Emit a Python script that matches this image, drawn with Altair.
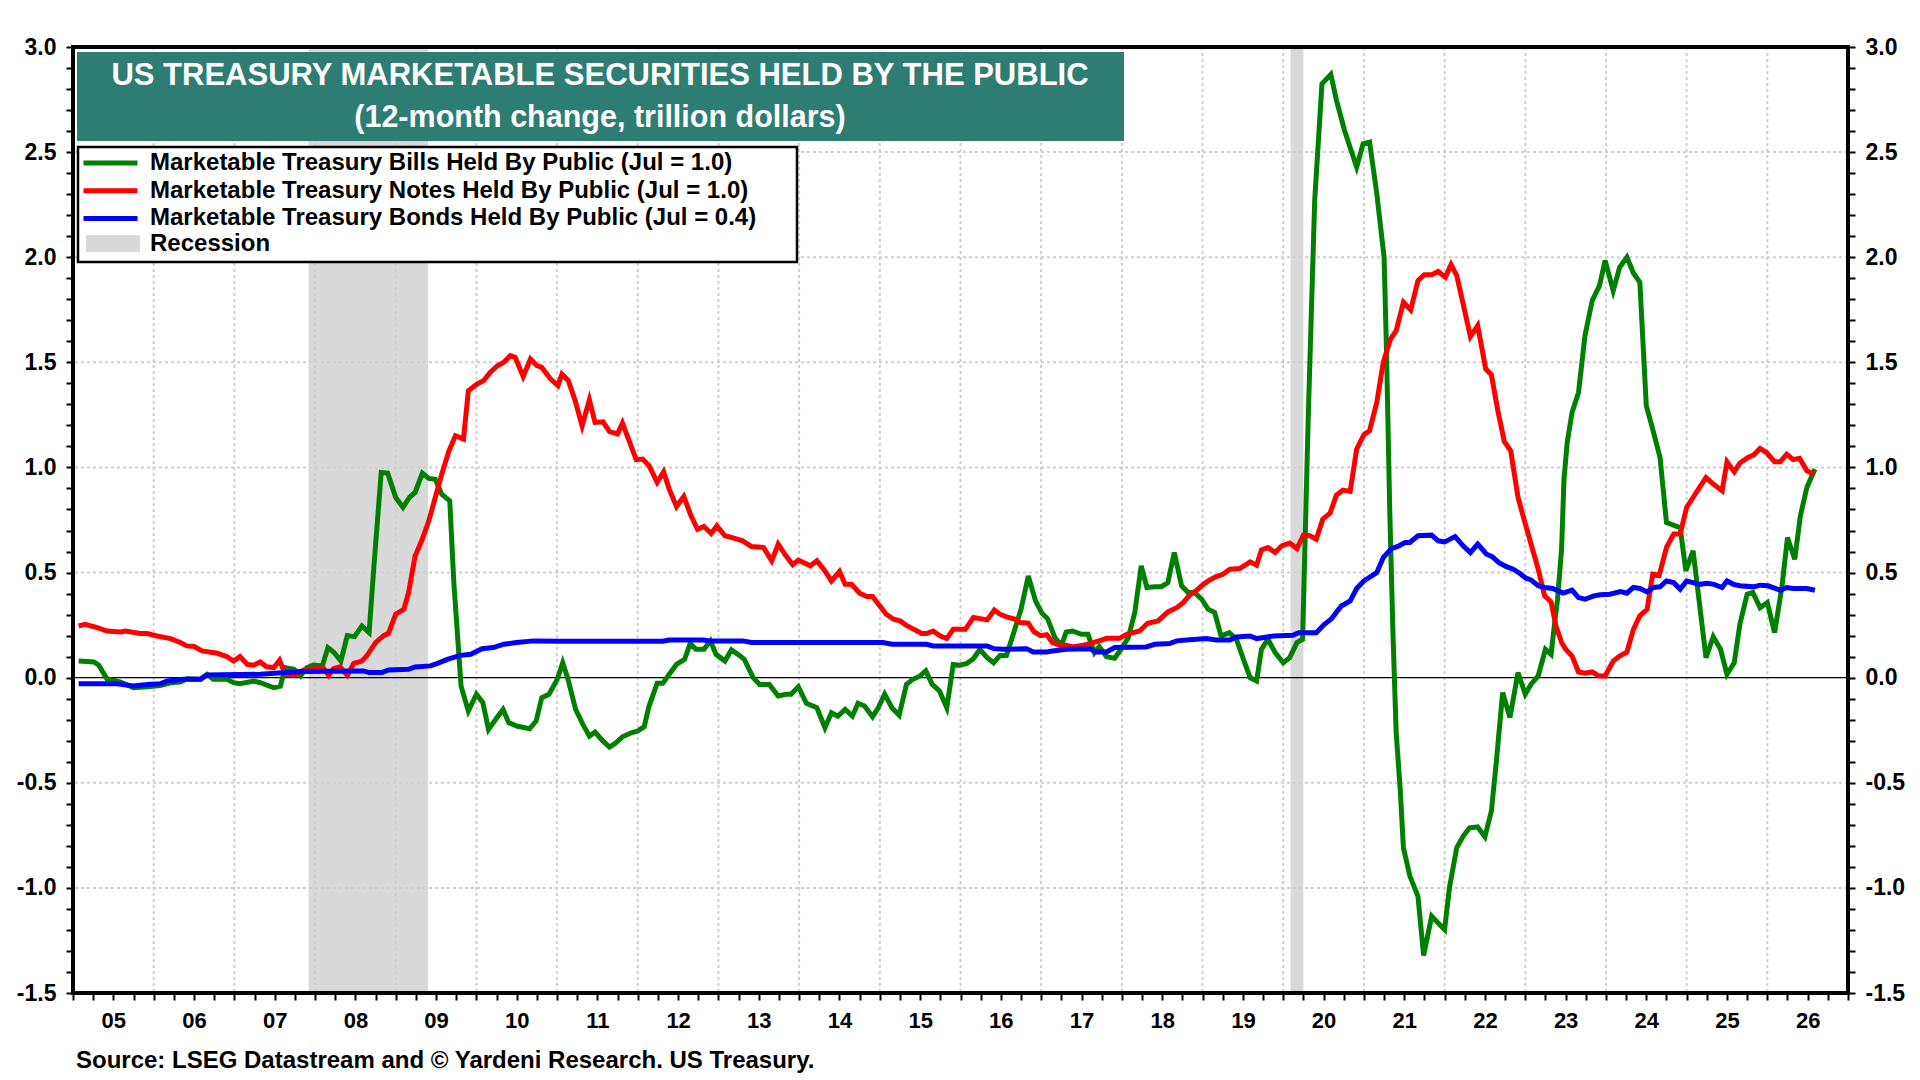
import altair as alt
import pandas as pd

# ---------------- data ----------------
series_names = [
    "Marketable Treasury Bills Held By Public (Jul = 1.0)",
    "Marketable Treasury Notes Held By Public (Jul = 1.0)",
    "Marketable Treasury Bonds Held By Public (Jul = 0.4)",
]
series_colors = ["#008000", "#FF0000", "#0000FF"]

bills_year = [2005.07, 2005.26, 2005.32, 2005.42, 2005.59, 2005.75, 2005.92, 2006.08, 2006.21, 2006.33,
              2006.41, 2006.58, 2006.66, 2006.74, 2006.91, 2006.99, 2007.07, 2007.24, 2007.32, 2007.49,
              2007.57, 2007.63, 2007.74, 2007.82, 2007.90, 2007.98, 2008.09, 2008.16, 2008.23, 2008.32,
              2008.40, 2008.49, 2008.58, 2008.67, 2008.73, 2008.82, 2008.90, 2009.00, 2009.09, 2009.17,
              2009.24, 2009.33, 2009.41, 2009.49, 2009.57, 2009.67, 2009.72, 2009.81, 2009.90, 2010.00,
              2010.08, 2010.15, 2010.24, 2010.33, 2010.40, 2010.50, 2010.66, 2010.74, 2010.81, 2010.90,
              2011.00, 2011.07, 2011.13, 2011.23, 2011.32, 2011.40, 2011.47, 2011.57, 2011.65, 2011.73,
              2011.81, 2011.92, 2012.00, 2012.08, 2012.14, 2012.24, 2012.31, 2012.39, 2012.48, 2012.58,
              2012.65, 2012.72, 2012.82, 2012.90, 2012.97, 2013.08, 2013.16, 2013.24, 2013.32, 2013.43,
              2013.51, 2013.63, 2013.74, 2013.84, 2013.90, 2013.99, 2014.09, 2014.22, 2014.32, 2014.40,
              2014.48, 2014.57, 2014.66, 2014.73, 2014.81, 2014.91, 2014.98, 2015.06, 2015.15, 2015.24,
              2015.33, 2015.41, 2015.50, 2015.57, 2015.65, 2015.74, 2015.83, 2015.91, 2015.99, 2016.08,
              2016.16, 2016.24, 2016.33, 2016.41, 2016.49, 2016.57, 2016.66, 2016.75, 2016.84, 2016.93,
              2017.01, 2017.08, 2017.17, 2017.25, 2017.31, 2017.39, 2017.50, 2017.58, 2017.66, 2017.72,
              2017.81, 2017.91, 2017.99, 2018.08, 2018.16, 2018.24, 2018.31, 2018.41, 2018.49, 2018.57,
              2018.65, 2018.74, 2018.82, 2018.90, 2018.99, 2019.07, 2019.15, 2019.23, 2019.33, 2019.42,
              2019.51, 2019.59, 2019.67, 2019.73, 2019.81, 2019.90, 2020.00, 2020.08, 2020.17, 2020.24,
              2020.31, 2020.39, 2020.48, 2020.59, 2020.66, 2020.76, 2020.91, 2020.99, 2021.07, 2021.16,
              2021.25, 2021.28, 2021.32, 2021.36, 2021.40, 2021.45, 2021.49, 2021.57, 2021.67, 2021.74,
              2021.84, 2021.92, 2022.00, 2022.06, 2022.15, 2022.23, 2022.31, 2022.41, 2022.50, 2022.58,
              2022.64, 2022.72, 2022.81, 2022.91, 2023.00, 2023.07, 2023.16, 2023.25, 2023.32, 2023.36,
              2023.40, 2023.45, 2023.48, 2023.52, 2023.58, 2023.66, 2023.74, 2023.83, 2023.92, 2023.99,
              2024.09, 2024.17, 2024.26, 2024.34, 2024.42, 2024.50, 2024.59, 2024.67, 2024.75, 2024.86,
              2024.92, 2024.99, 2025.08, 2025.15, 2025.24, 2025.33, 2025.42, 2025.50, 2025.59, 2025.66,
              2025.75, 2025.82, 2025.91, 2026.00, 2026.09, 2026.18, 2026.25, 2026.34, 2026.41, 2026.49,
              2026.59]
bills_val = [0.079, 0.075, 0.059, -0.005, -0.021, -0.048, -0.043, -0.037, -0.024, -0.021,
             -0.005, -0.008, 0.016, -0.008, -0.008, -0.024, -0.029, -0.016, -0.024, -0.048,
             -0.040, 0.048, 0.040, 0.008, 0.048, 0.060, 0.056, 0.143, 0.122, 0.079,
             0.200, 0.195, 0.246, 0.214, 0.532, 0.976, 0.973, 0.857, 0.810, 0.857,
             0.881, 0.973, 0.948, 0.944, 0.873, 0.841, 0.452, -0.040, -0.159, -0.079,
             -0.119, -0.246, -0.198, -0.151, -0.214, -0.230, -0.243, -0.206, -0.095, -0.079,
             -0.010, 0.071, 0.000, -0.151, -0.222, -0.278, -0.259, -0.302, -0.330, -0.310,
             -0.281, -0.262, -0.254, -0.233, -0.135, -0.027, -0.027, 0.016, 0.063, 0.087,
             0.163, 0.135, 0.135, 0.175, 0.111, 0.079, 0.132, 0.111, 0.087, 0.000,
             -0.032, -0.032, -0.087, -0.079, -0.079, -0.043, -0.122, -0.143, -0.238, -0.167,
             -0.183, -0.151, -0.183, -0.122, -0.135, -0.186, -0.143, -0.079, -0.143, -0.179,
             -0.032, -0.008, 0.008, 0.032, -0.032, -0.063, -0.143, 0.063, 0.059, 0.068,
             0.090, 0.135, 0.095, 0.071, 0.106, 0.106, 0.214, 0.325, 0.484, 0.365,
             0.306, 0.280, 0.190, 0.154, 0.217, 0.222, 0.206, 0.206, 0.119, 0.148,
             0.100, 0.092, 0.135, 0.190, 0.310, 0.532, 0.429, 0.433, 0.433, 0.452,
             0.595, 0.437, 0.405, 0.405, 0.373, 0.325, 0.310, 0.198, 0.214, 0.183,
             0.084, 0.000, -0.016, 0.135, 0.183, 0.119, 0.071, 0.095, 0.167, 0.183,
             1.238, 2.270, 2.825, 2.870, 2.746, 2.603, 2.429, 2.540, 2.548, 2.302,
             2.000, 1.556, 0.800, 0.214, -0.262, -0.532, -0.810, -0.944, -1.040, -1.322,
             -1.135, -1.167, -1.198, -1.000, -0.810, -0.754, -0.714, -0.710, -0.757, -0.635,
             -0.405, -0.071, -0.190, 0.024, -0.079, -0.032, 0.008, 0.135, 0.111, 0.246,
             0.373, 0.611, 0.944, 1.119, 1.262, 1.357, 1.627, 1.794, 1.865, 1.984,
             1.841, 1.952, 2.000, 1.925, 1.881, 1.294, 1.167, 1.048, 0.738, 0.722,
             0.714, 0.508, 0.603, 0.381, 0.095, 0.195, 0.135, 0.016, 0.071, 0.254,
             0.397, 0.405, 0.333, 0.357, 0.214, 0.429, 0.667, 0.563, 0.770, 0.905,
             0.992]

notes_year = [2005.07, 2005.15, 2005.30, 2005.42, 2005.59, 2005.65, 2005.83, 2005.92, 2006.04, 2006.21,
              2006.33, 2006.41, 2006.50, 2006.60, 2006.79, 2006.91, 2006.99, 2007.07, 2007.16, 2007.24,
              2007.32, 2007.40, 2007.49, 2007.56, 2007.63, 2007.74, 2007.86, 2007.98, 2008.11, 2008.17,
              2008.23, 2008.31, 2008.40, 2008.48, 2008.58, 2008.64, 2008.75, 2008.85, 2008.91, 2009.00,
              2009.10, 2009.16, 2009.24, 2009.33, 2009.41, 2009.49, 2009.57, 2009.66, 2009.74, 2009.84,
              2009.90, 2010.01, 2010.09, 2010.17, 2010.26, 2010.34, 2010.42, 2010.48, 2010.58, 2010.67,
              2010.75, 2010.81, 2010.92, 2011.01, 2011.06, 2011.14, 2011.23, 2011.31, 2011.40, 2011.47,
              2011.57, 2011.65, 2011.75, 2011.81, 2011.90, 2011.98, 2012.06, 2012.14, 2012.24, 2012.32,
              2012.39, 2012.48, 2012.57, 2012.66, 2012.74, 2012.82, 2012.91, 2012.98, 2013.08, 2013.18,
              2013.30, 2013.41, 2013.56, 2013.66, 2013.74, 2013.83, 2013.92, 2013.99, 2014.14, 2014.22,
              2014.32, 2014.40, 2014.50, 2014.57, 2014.65, 2014.75, 2014.84, 2014.91, 2015.00, 2015.08,
              2015.17, 2015.25, 2015.33, 2015.42, 2015.52, 2015.58, 2015.66, 2015.75, 2015.83, 2015.91,
              2016.06, 2016.16, 2016.33, 2016.42, 2016.49, 2016.57, 2016.68, 2016.74, 2016.84, 2016.91,
              2016.99, 2017.07, 2017.14, 2017.23, 2017.31, 2017.39, 2017.52, 2017.64, 2017.72, 2017.81,
              2017.97, 2018.06, 2018.14, 2018.22, 2018.32, 2018.45, 2018.57, 2018.68, 2018.76, 2018.84,
              2018.92, 2019.01, 2019.09, 2019.17, 2019.25, 2019.34, 2019.46, 2019.59, 2019.67, 2019.73,
              2019.81, 2019.90, 2019.98, 2020.08, 2020.17, 2020.25, 2020.33, 2020.41, 2020.49, 2020.58,
              2020.66, 2020.74, 2020.83, 2020.91, 2021.00, 2021.07, 2021.16, 2021.24, 2021.33, 2021.40,
              2021.49, 2021.58, 2021.67, 2021.75, 2021.84, 2021.92, 2022.01, 2022.08, 2022.15, 2022.23,
              2022.32, 2022.41, 2022.51, 2022.58, 2022.66, 2022.74, 2022.82, 2022.91, 2022.99, 2023.09,
              2023.16, 2023.24, 2023.32, 2023.38, 2023.45, 2023.50, 2023.58, 2023.66, 2023.74, 2023.83,
              2023.91, 2023.99, 2024.09, 2024.17, 2024.26, 2024.34, 2024.42, 2024.51, 2024.58, 2024.66,
              2024.75, 2024.84, 2024.92, 2025.00, 2025.08, 2025.16, 2025.24, 2025.33, 2025.44, 2025.50,
              2025.59, 2025.66, 2025.76, 2025.83, 2025.91, 2025.99, 2026.09, 2026.16, 2026.24, 2026.32,
              2026.40, 2026.49, 2026.58]
notes_val = [0.246, 0.254, 0.238, 0.222, 0.217, 0.222, 0.210, 0.210, 0.198, 0.186,
             0.167, 0.151, 0.148, 0.127, 0.116, 0.100, 0.079, 0.100, 0.063, 0.059,
             0.075, 0.052, 0.048, 0.083, 0.016, 0.011, 0.037, 0.043, 0.043, 0.011,
             0.043, 0.052, 0.011, 0.068, 0.079, 0.103, 0.167, 0.200, 0.211, 0.302,
             0.325, 0.405, 0.579, 0.659, 0.746, 0.857, 0.968, 1.079, 1.151, 1.135,
             1.365, 1.397, 1.413, 1.452, 1.484, 1.500, 1.532, 1.524, 1.433, 1.516,
             1.484, 1.476, 1.420, 1.389, 1.444, 1.413, 1.310, 1.198, 1.322, 1.214,
             1.217, 1.170, 1.159, 1.211, 1.119, 1.037, 1.040, 1.008, 0.929, 0.979,
             0.897, 0.814, 0.862, 0.770, 0.706, 0.719, 0.686, 0.722, 0.675, 0.665,
             0.651, 0.624, 0.619, 0.556, 0.635, 0.583, 0.537, 0.559, 0.532, 0.556,
             0.508, 0.460, 0.505, 0.444, 0.444, 0.402, 0.386, 0.386, 0.341, 0.302,
             0.278, 0.270, 0.249, 0.230, 0.210, 0.210, 0.222, 0.198, 0.186, 0.230,
             0.230, 0.286, 0.275, 0.322, 0.302, 0.289, 0.278, 0.262, 0.259, 0.219,
             0.200, 0.204, 0.167, 0.154, 0.154, 0.146, 0.154, 0.167, 0.175, 0.187,
             0.187, 0.206, 0.214, 0.222, 0.259, 0.270, 0.313, 0.333, 0.357, 0.392,
             0.413, 0.444, 0.465, 0.481, 0.492, 0.516, 0.519, 0.551, 0.535, 0.608,
             0.619, 0.595, 0.627, 0.640, 0.614, 0.678, 0.675, 0.659, 0.754, 0.782,
             0.869, 0.892, 0.886, 1.087, 1.156, 1.175, 1.310, 1.500, 1.611, 1.651,
             1.786, 1.749, 1.889, 1.917, 1.917, 1.932, 1.905, 1.965, 1.913, 1.778,
             1.622, 1.675, 1.468, 1.441, 1.270, 1.124, 1.079, 0.857, 0.746, 0.611,
             0.516, 0.389, 0.360, 0.246, 0.167, 0.135, 0.103, 0.027, 0.021, 0.027,
             0.008, 0.008, 0.079, 0.103, 0.122, 0.230, 0.294, 0.325, 0.492, 0.487,
             0.619, 0.683, 0.683, 0.810, 0.857, 0.905, 0.952, 0.921, 0.889, 1.027,
             0.979, 1.021, 1.048, 1.059, 1.090, 1.071, 1.027, 1.027, 1.063, 1.037,
             1.043, 0.984, 0.968]

bonds_year = [2005.07, 2005.55, 2005.75, 2005.92, 2006.08, 2006.17, 2006.37, 2006.58, 2006.66, 2007.32,
              2007.82, 2008.60, 2008.67, 2008.83, 2008.91, 2009.16, 2009.24, 2009.43, 2009.51, 2009.64,
              2009.80, 2009.93, 2010.07, 2010.21, 2010.34, 2010.50, 2010.71, 2011.03, 2012.31, 2012.39,
              2012.81, 2012.89, 2013.30, 2013.41, 2015.04, 2015.15, 2015.58, 2015.66, 2016.33, 2016.41,
              2016.53, 2016.82, 2016.90, 2017.07, 2017.14, 2017.31, 2017.60, 2017.68, 2017.81, 2017.91,
              2018.30, 2018.41, 2018.59, 2018.68, 2018.80, 2019.05, 2019.17, 2019.34, 2019.42, 2019.59,
              2019.67, 2019.88, 2020.12, 2020.19, 2020.41, 2020.50, 2020.60, 2020.72, 2020.83, 2020.91,
              2021.00, 2021.16, 2021.24, 2021.34, 2021.42, 2021.51, 2021.57, 2021.67, 2021.84, 2021.92,
              2022.00, 2022.13, 2022.23, 2022.32, 2022.41, 2022.52, 2022.59, 2022.67, 2022.76, 2022.85,
              2022.93, 2023.01, 2023.07, 2023.16, 2023.24, 2023.34, 2023.47, 2023.58, 2023.66, 2023.74,
              2023.85, 2023.93, 2024.05, 2024.18, 2024.26, 2024.34, 2024.42, 2024.51, 2024.59, 2024.67,
              2024.75, 2024.84, 2024.92, 2025.00, 2025.17, 2025.25, 2025.34, 2025.44, 2025.50, 2025.58,
              2025.66, 2025.83, 2025.91, 2026.01, 2026.16, 2026.24, 2026.32, 2026.49, 2026.59]
bonds_val = [-0.029, -0.029, -0.040, -0.032, -0.029, -0.016, -0.008, -0.008, 0.013, 0.016,
             0.029, 0.032, 0.024, 0.024, 0.037, 0.040, 0.051, 0.056, 0.067, 0.087,
             0.106, 0.111, 0.138, 0.143, 0.159, 0.167, 0.175, 0.173, 0.173, 0.179,
             0.179, 0.175, 0.175, 0.167, 0.167, 0.159, 0.159, 0.151, 0.151, 0.138,
             0.135, 0.138, 0.122, 0.122, 0.127, 0.135, 0.138, 0.122, 0.122, 0.143,
             0.146, 0.159, 0.162, 0.175, 0.179, 0.186, 0.179, 0.179, 0.194, 0.198,
             0.186, 0.198, 0.202, 0.214, 0.214, 0.250, 0.281, 0.341, 0.365, 0.424,
             0.460, 0.500, 0.571, 0.614, 0.624, 0.643, 0.643, 0.675, 0.678, 0.651,
             0.646, 0.671, 0.627, 0.595, 0.635, 0.587, 0.576, 0.548, 0.529, 0.516,
             0.497, 0.473, 0.465, 0.437, 0.429, 0.424, 0.402, 0.416, 0.381, 0.373,
             0.389, 0.394, 0.397, 0.410, 0.402, 0.429, 0.424, 0.408, 0.429, 0.432,
             0.460, 0.452, 0.421, 0.460, 0.444, 0.449, 0.444, 0.429, 0.460, 0.444,
             0.437, 0.432, 0.440, 0.437, 0.416, 0.429, 0.424, 0.424, 0.416]

recession_start = [2007.92, 2020.09]
recession_end = [2009.40, 2020.25]
recession_label = ["Recession", "Recession"]

grid_years = list(range(2006, 2027))
grid_levels = [-1.0, -0.5, 0.5, 1.0, 1.5, 2.0, 2.5]
y_tick_values = [round(-1.5 + 0.1 * i, 1) for i in range(46)]
x_tick_values = [2005 + 0.25 * i for i in range(89)]

title_line1 = "US TREASURY MARKETABLE SECURITIES HELD BY THE PUBLIC"
title_line2 = "(12-month change, trillion dollars)"
source_text = "Source: LSEG Datastream and \u00a9 Yardeni Research. US Treasury."

# ---------------- tables ----------------
lines_df = pd.concat([
    pd.DataFrame({"year": bills_year, "value": bills_val, "series": series_names[0]}),
    pd.DataFrame({"year": notes_year, "value": notes_val, "series": series_names[1]}),
    pd.DataFrame({"year": bonds_year, "value": bonds_val, "series": series_names[2]}),
], ignore_index=True)
rec_df = pd.DataFrame({"start": recession_start, "end": recession_end, "label": recession_label})
vgrid_df = pd.DataFrame({"yr": grid_years})
hgrid_df = pd.DataFrame({"lvl": grid_levels})
zero_df = pd.DataFrame({"z": [0.0]})
one = pd.DataFrame({"a": [0]})

# ---------------- styling ----------------
W, H = 1775, 946
FONT = "Liberation Sans"
GRID = "#CFCFCF"

xscale = alt.Scale(domain=[2005, 2027], nice=False, zero=False)
yscale = alt.Scale(domain=[-1.5, 3.0], nice=False, zero=False)

ylab = ("abs(datum.value*2 - round(datum.value*2)) < 0.001 ? "
        "replace(format(datum.value, '.1f'), '\u2212', '-') : ''")
xlab = ("abs(datum.value - floor(datum.value) - 0.5) < 0.01 ? "
        "substring(toString(floor(datum.value)), 2, 4) : ''")


def y_axis(orient):
    return alt.Axis(orient=orient, values=y_tick_values, labelExpr=ylab, tickSize=7, tickWidth=2,
                    tickColor="black", domain=False, grid=False, labelFont=FONT, labelFontSize=23,
                    labelFontWeight="bold", labelColor="black", labelPadding=10,
                    labelOverlap=False, title=None)


def x_axis():
    return alt.Axis(orient="bottom", values=x_tick_values, labelExpr=xlab, tickSize=7, tickWidth=2,
                    tickColor="black", domain=False, grid=False, labelFont=FONT, labelFontSize=22,
                    labelFontWeight="bold", labelColor="black", labelPadding=10, labelOverlap=False,
                    labelFlush=False, labelAngle=0, title=None)


line_legend = alt.Legend(orient="none", legendX=8, legendY=105, title=None, direction="vertical",
                         symbolType="stroke", symbolSize=2916, symbolStrokeWidth=5,
                         labelFont=FONT, labelFontSize=24, labelFontWeight="bold", labelColor="black",
                         labelLimit=1000, labelOffset=10, clipHeight=22, rowPadding=3.7, padding=0,
                         symbolOffset=0)
rec_legend = alt.Legend(orient="none", legendX=13, legendY=185.7, title=None, direction="vertical",
                        symbolType="M-1,-0.31H1V0.31H-1Z", symbolSize=2916, symbolStrokeWidth=0,
                        labelFont=FONT, labelFontSize=24, labelFontWeight="bold", labelColor="black",
                        labelLimit=1000, labelOffset=10, clipHeight=22, padding=0, symbolOffset=0)

# ---------------- layers ----------------
recession = alt.Chart(rec_df).mark_rect().encode(
    x=alt.X("start:Q", scale=xscale, axis=x_axis()),
    x2="end:Q",
    fill=alt.Fill("label:N", scale=alt.Scale(domain=["Recession"], range=["#D9D9D9"]), legend=rec_legend),
)

vgrid = alt.Chart(vgrid_df).mark_rule(color=GRID, strokeWidth=2, strokeDash=[3, 3]).encode(
    x=alt.X("yr:Q", scale=xscale, axis=x_axis())
)

hgrid = alt.Chart(hgrid_df).mark_rule(color=GRID, strokeWidth=2, strokeDash=[3, 3]).encode(
    y=alt.Y("lvl:Q", scale=yscale, axis=y_axis("right"))
)

zero = alt.Chart(zero_df).mark_rule(color="black", strokeWidth=1.2).encode(
    y=alt.Y("z:Q", scale=yscale, axis=None)
)

lines = alt.Chart(lines_df).mark_line(strokeWidth=5).encode(
    x=alt.X("year:Q", scale=xscale, axis=x_axis()),
    y=alt.Y("value:Q", scale=yscale, axis=y_axis("left")),
    color=alt.Color("series:N", scale=alt.Scale(domain=series_names, range=series_colors),
                    legend=line_legend),
)

title_box = alt.Chart(one).mark_rect(color="#2E7D72").encode(
    x=alt.value(4), x2=alt.value(1051), y=alt.value(5), y2=alt.value(94)
)
title1 = alt.Chart(one).mark_text(text=title_line1, font=FONT, fontSize=31, fontWeight="bold",
                                  color="white", align="center", baseline="alphabetic").encode(
    x=alt.value(527), y=alt.value(38)
)
title2 = alt.Chart(one).mark_text(text=title_line2, font=FONT, fontSize=30.5, fontWeight="bold",
                                  color="white", align="center", baseline="alphabetic").encode(
    x=alt.value(527), y=alt.value(80)
)
legend_box = alt.Chart(one).mark_rect(fill="white", stroke="black", strokeWidth=2.5).encode(
    x=alt.value(5), x2=alt.value(724), y=alt.value(100), y2=alt.value(215)
)
source = alt.Chart(one).mark_text(text=source_text, font=FONT, fontSize=24, fontWeight="bold",
                                  color="black", align="left", baseline="alphabetic").encode(
    x=alt.value(3), y=alt.value(1021)
)
frame = alt.Chart(one).mark_rect(fillOpacity=0, stroke="black", strokeWidth=4).encode(
    x=alt.value(0), x2=alt.value(W), y=alt.value(0), y2=alt.value(H)
)

chart = alt.layer(
    recession, vgrid, hgrid, zero, lines, title_box, title1, title2, legend_box, source, frame
).resolve_axis(
    x="shared", y="independent"
).properties(
    width=W, height=H,
    padding={"left": 65, "top": 39, "right": 60, "bottom": 84},
    autosize=alt.AutoSizeParams(type="none"),
    background="white",
).configure_view(
    strokeWidth=0
)

chart.save("out.html", embed_options={"renderer": "svg", "actions": False})
